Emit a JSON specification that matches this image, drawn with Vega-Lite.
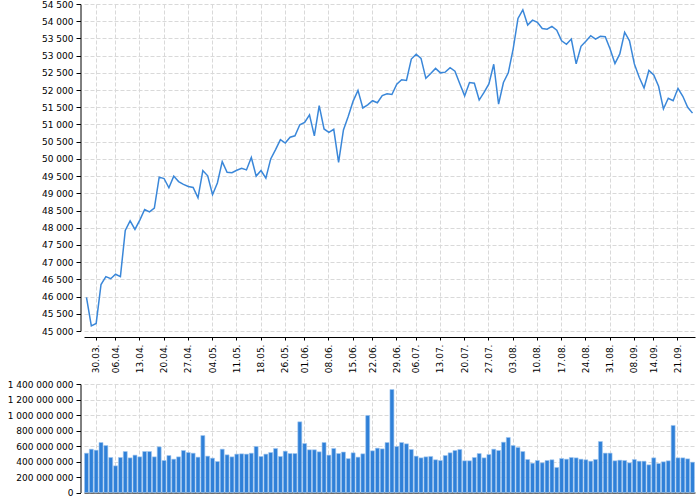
{
  "$schema": "https://vega.github.io/schema/vega-lite/v6.json",
  "padding": {"left": 7, "top": 0, "right": 5, "bottom": 0},
  "spacing": 7,
  "datasets": {
    "rows": [
      {"d": "26.03.", "close": 45980, "vol": 507000000},
      {"d": "27.03.", "close": 45150, "vol": 559000000},
      {"d": "30.03.", "close": 45220, "vol": 546000000},
      {"d": "31.03.", "close": 46350, "vol": 645000000},
      {"d": "01.04.", "close": 46580, "vol": 606000000},
      {"d": "02.04.", "close": 46520, "vol": 452000000},
      {"d": "06.04.", "close": 46650, "vol": 344000000},
      {"d": "07.04.", "close": 46580, "vol": 452000000},
      {"d": "08.04.", "close": 47920, "vol": 529000000},
      {"d": "09.04.", "close": 48200, "vol": 447000000},
      {"d": "10.04.", "close": 47950, "vol": 482000000},
      {"d": "13.04.", "close": 48220, "vol": 460000000},
      {"d": "14.04.", "close": 48530, "vol": 529000000},
      {"d": "15.04.", "close": 48460, "vol": 529000000},
      {"d": "16.04.", "close": 48570, "vol": 460000000},
      {"d": "17.04.", "close": 49470, "vol": 589000000},
      {"d": "20.04.", "close": 49430, "vol": 413000000},
      {"d": "21.04.", "close": 49160, "vol": 477000000},
      {"d": "22.04.", "close": 49500, "vol": 430000000},
      {"d": "23.04.", "close": 49340, "vol": 460000000},
      {"d": "24.04.", "close": 49260, "vol": 542000000},
      {"d": "27.04.", "close": 49200, "vol": 516000000},
      {"d": "28.04.", "close": 49170, "vol": 507000000},
      {"d": "29.04.", "close": 48870, "vol": 456000000},
      {"d": "30.04.", "close": 49660, "vol": 735000000},
      {"d": "01.05.", "close": 49510, "vol": 469000000},
      {"d": "04.05.", "close": 48960, "vol": 443000000},
      {"d": "05.05.", "close": 49300, "vol": 400000000},
      {"d": "06.05.", "close": 49920, "vol": 559000000},
      {"d": "07.05.", "close": 49610, "vol": 486000000},
      {"d": "08.05.", "close": 49600, "vol": 460000000},
      {"d": "11.05.", "close": 49670, "vol": 495000000},
      {"d": "12.05.", "close": 49730, "vol": 499000000},
      {"d": "13.05.", "close": 49680, "vol": 495000000},
      {"d": "14.05.", "close": 50040, "vol": 507000000},
      {"d": "15.05.", "close": 49500, "vol": 594000000},
      {"d": "18.05.", "close": 49660, "vol": 465000000},
      {"d": "19.05.", "close": 49440, "vol": 495000000},
      {"d": "20.05.", "close": 50000, "vol": 516000000},
      {"d": "21.05.", "close": 50270, "vol": 568000000},
      {"d": "22.05.", "close": 50560, "vol": 465000000},
      {"d": "26.05.", "close": 50460, "vol": 533000000},
      {"d": "27.05.", "close": 50630, "vol": 503000000},
      {"d": "28.05.", "close": 50670, "vol": 503000000},
      {"d": "29.05.", "close": 50990, "vol": 912000000},
      {"d": "01.06.", "close": 51060, "vol": 632000000},
      {"d": "02.06.", "close": 51280, "vol": 551000000},
      {"d": "03.06.", "close": 50670, "vol": 551000000},
      {"d": "04.06.", "close": 51550, "vol": 525000000},
      {"d": "05.06.", "close": 50870, "vol": 645000000},
      {"d": "08.06.", "close": 50770, "vol": 482000000},
      {"d": "09.06.", "close": 50860, "vol": 568000000},
      {"d": "10.06.", "close": 49900, "vol": 503000000},
      {"d": "11.06.", "close": 50840, "vol": 522000000},
      {"d": "12.06.", "close": 51240, "vol": 437000000},
      {"d": "15.06.", "close": 51680, "vol": 512000000},
      {"d": "16.06.", "close": 51990, "vol": 456000000},
      {"d": "17.06.", "close": 51480, "vol": 499000000},
      {"d": "18.06.", "close": 51570, "vol": 994000000},
      {"d": "22.06.", "close": 51690, "vol": 538000000},
      {"d": "23.06.", "close": 51630, "vol": 572000000},
      {"d": "24.06.", "close": 51840, "vol": 563000000},
      {"d": "25.06.", "close": 51890, "vol": 645000000},
      {"d": "26.06.", "close": 51870, "vol": 1329000000},
      {"d": "29.06.", "close": 52170, "vol": 594000000},
      {"d": "30.06.", "close": 52300, "vol": 645000000},
      {"d": "01.07.", "close": 52280, "vol": 628000000},
      {"d": "02.07.", "close": 52900, "vol": 555000000},
      {"d": "06.07.", "close": 53040, "vol": 469000000},
      {"d": "07.07.", "close": 52920, "vol": 447000000},
      {"d": "08.07.", "close": 52340, "vol": 460000000},
      {"d": "09.07.", "close": 52480, "vol": 465000000},
      {"d": "10.07.", "close": 52630, "vol": 422000000},
      {"d": "13.07.", "close": 52500, "vol": 413000000},
      {"d": "14.07.", "close": 52520, "vol": 477000000},
      {"d": "15.07.", "close": 52650, "vol": 512000000},
      {"d": "16.07.", "close": 52550, "vol": 542000000},
      {"d": "17.07.", "close": 52180, "vol": 555000000},
      {"d": "20.07.", "close": 51830, "vol": 409000000},
      {"d": "21.07.", "close": 52220, "vol": 409000000},
      {"d": "22.07.", "close": 52200, "vol": 452000000},
      {"d": "23.07.", "close": 51710, "vol": 503000000},
      {"d": "24.07.", "close": 51930, "vol": 447000000},
      {"d": "27.07.", "close": 52180, "vol": 490000000},
      {"d": "28.07.", "close": 52750, "vol": 559000000},
      {"d": "29.07.", "close": 51590, "vol": 542000000},
      {"d": "30.07.", "close": 52220, "vol": 649000000},
      {"d": "31.07.", "close": 52500, "vol": 710000000},
      {"d": "03.08.", "close": 53190, "vol": 606000000},
      {"d": "04.08.", "close": 54080, "vol": 581000000},
      {"d": "05.08.", "close": 54330, "vol": 529000000},
      {"d": "06.08.", "close": 53890, "vol": 426000000},
      {"d": "07.08.", "close": 54030, "vol": 378000000},
      {"d": "10.08.", "close": 53970, "vol": 413000000},
      {"d": "11.08.", "close": 53790, "vol": 383000000},
      {"d": "12.08.", "close": 53770, "vol": 413000000},
      {"d": "13.08.", "close": 53850, "vol": 422000000},
      {"d": "14.08.", "close": 53740, "vol": 323000000},
      {"d": "17.08.", "close": 53430, "vol": 439000000},
      {"d": "18.08.", "close": 53330, "vol": 430000000},
      {"d": "19.08.", "close": 53480, "vol": 452000000},
      {"d": "20.08.", "close": 52760, "vol": 447000000},
      {"d": "21.08.", "close": 53270, "vol": 430000000},
      {"d": "24.08.", "close": 53420, "vol": 422000000},
      {"d": "25.08.", "close": 53580, "vol": 404000000},
      {"d": "26.08.", "close": 53480, "vol": 426000000},
      {"d": "27.08.", "close": 53560, "vol": 658000000},
      {"d": "28.08.", "close": 53550, "vol": 508000000},
      {"d": "31.08.", "close": 53190, "vol": 508000000},
      {"d": "01.09.", "close": 52770, "vol": 409000000},
      {"d": "02.09.", "close": 53050, "vol": 417000000},
      {"d": "03.09.", "close": 53680, "vol": 413000000},
      {"d": "04.09.", "close": 53430, "vol": 383000000},
      {"d": "08.09.", "close": 52760, "vol": 426000000},
      {"d": "09.09.", "close": 52370, "vol": 404000000},
      {"d": "10.09.", "close": 52060, "vol": 404000000},
      {"d": "11.09.", "close": 52570, "vol": 357000000},
      {"d": "14.09.", "close": 52440, "vol": 447000000},
      {"d": "15.09.", "close": 52110, "vol": 374000000},
      {"d": "16.09.", "close": 51450, "vol": 396000000},
      {"d": "17.09.", "close": 51760, "vol": 409000000},
      {"d": "18.09.", "close": 51690, "vol": 865000000},
      {"d": "21.09.", "close": 52050, "vol": 447000000},
      {"d": "22.09.", "close": 51820, "vol": 447000000},
      {"d": "23.09.", "close": 51500, "vol": 434000000},
      {"d": "24.09.", "close": 51330, "vol": 391000000}
    ]
  },
  "data": {"name": "rows"},
  "config": {
    "view": {"stroke": null},
    "font": "DejaVu Sans",
    "axis": {
      "labelFont": "DejaVu Sans",
      "labelFontSize": 9,
      "labelColor": "#000000",
      "domainColor": "#000000",
      "tickColor": "#000000",
      "gridColor": "#d9d9d9",
      "gridDash": [4, 2],
      "gridWidth": 1,
      "title": null
    }
  },
  "vconcat": [
    {
      "width": 611,
      "height": 327,
      "mark": {"type": "line", "color": "#3a87d9", "strokeWidth": 1.5},
      "encoding": {
        "x": {
          "field": "d",
          "type": "ordinal",
          "sort": null,
          "scale": {"type": "band", "paddingInner": 0.18, "paddingOuter": 0.1},
          "axis": {
            "values": ["30.03.", "06.04.", "13.04.", "20.04.", "27.04.", "04.05.", "11.05.", "18.05.", "26.05.", "01.06.", "08.06.", "15.06.", "22.06.", "29.06.", "06.07.", "13.07.", "20.07.", "27.07.", "03.08.", "10.08.", "17.08.", "24.08.", "31.08.", "08.09.", "14.09.", "21.09."],
            "labelAngle": -90,
            "offset": 6,
            "tickSize": 3,
            "labelPadding": 4,
            "grid": true,
            "bandPosition": 0.5,
            "title": null
          }
        },
        "y": {
          "field": "close",
          "type": "quantitative",
          "scale": {"domain": [45000, 54500], "nice": false, "zero": false},
          "axis": {
            "values": [45000, 45500, 46000, 46500, 47000, 47500, 48000, 48500, 49000, 49500, 50000, 50500, 51000, 51500, 52000, 52500, 53000, 53500, 54000, 54500],
            "offset": 3.5,
            "tickSize": 4.5,
            "labelPadding": 3,
            "labelExpr": "replace(format(datum.value, ',d'), regexp(',', 'g'), ' ')",
            "grid": true,
            "title": null
          }
        }
      }
    },
    {
      "width": 611,
      "height": 108.5,
      "mark": {"type": "bar", "color": "#2f80d8", "stroke": "#a3c8f0", "strokeWidth": 0.6},
      "encoding": {
        "x": {
          "field": "d",
          "type": "ordinal",
          "sort": null,
          "scale": {"type": "band", "paddingInner": 0.18, "paddingOuter": 0.1},
          "axis": {
            "values": ["30.03.", "06.04.", "13.04.", "20.04.", "27.04.", "04.05.", "11.05.", "18.05.", "26.05.", "01.06.", "08.06.", "15.06.", "22.06.", "29.06.", "06.07.", "13.07.", "20.07.", "27.07.", "03.08.", "10.08.", "17.08.", "24.08.", "31.08.", "08.09.", "14.09.", "21.09."],
            "labels": false,
            "ticks": false,
            "domain": true,
            "grid": true,
            "bandPosition": 0.5,
            "title": null
          }
        },
        "y": {
          "field": "vol",
          "type": "quantitative",
          "scale": {"domain": [0, 1400000000], "nice": false},
          "axis": {
            "values": [0, 200000000, 400000000, 600000000, 800000000, 1000000000, 1200000000, 1400000000],
            "offset": 3.5,
            "tickSize": 4.5,
            "labelPadding": 3,
            "labelExpr": "replace(format(datum.value, ',d'), regexp(',', 'g'), ' ')",
            "grid": true,
            "title": null
          }
        }
      }
    }
  ]
}
